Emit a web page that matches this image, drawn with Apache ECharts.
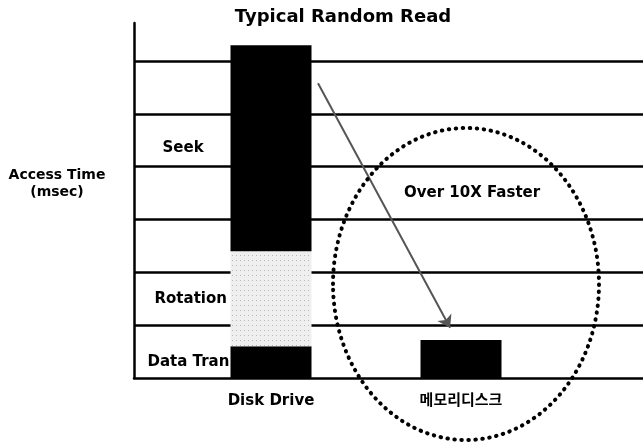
<!DOCTYPE html>
<html>
<head>
<meta charset="utf-8">
<script src="https://cdn.jsdelivr.net/npm/echarts@6/dist/echarts.min.js"></script>
<style>
  html, body { margin: 0; padding: 0; background: #fff; }
  #chart { width: 643px; height: 443px; }
</style>
</head>
<body>
<div id="chart"></div>
<script>
// 数据
const categories = ["Disk Drive", "메모리디스크"];
const transferTime = [0.6, null];
const rotationTime = [1.8, null];
const seekTime = [3.9, null];
const memoryTime = [null, 0.72];
const gridValues = [1, 2, 3, 4, 5, 6];
// 箭头起点和终点（背景网格的数据坐标，x 为 0~1）
const arrowFrom = [0.3615, 5.58];
const arrowTo = [0.621, 0.95];

const FONT = "'DejaVu Sans', 'Noto Sans CJK KR', sans-serif";
const Y_MAX = 6.72;

const chart = echarts.init(document.getElementById("chart"));

const labelStyle = {
  fontFamily: FONT,
  fontSize: 15,
  fontWeight: "bold",
  color: "#000",
};

const option = {
  animation: false,
  title: {
    text: "Typical Random Read",
    left: 338,
    textAlign: "center",
    top: 3,
    textStyle: { fontFamily: FONT, fontSize: 18, fontWeight: "bold", color: "#000" },
  },
  // grid 0：柱子；grid 1：整幅背景（轴线、网格线、箭头）
  grid: [
    { left: 176, width: 380, top: 23, bottom: 65 },
    { left: 134, right: 0, top: 23, bottom: 65 },
  ],
  xAxis: [
    {
      gridIndex: 0,
      type: "category",
      data: categories,
      axisLine: { show: false },
      axisTick: { show: false },
      axisLabel: {
        fontFamily: FONT,
        fontSize: 15,
        fontWeight: "bold",
        color: "#000",
        margin: 16,
      },
    },
    {
      gridIndex: 1,
      type: "value",
      min: 0,
      max: 1,
      axisLine: { show: true, lineStyle: { color: "#000", width: 2.5 } },
      axisTick: { show: false },
      axisLabel: { show: false },
      splitLine: { show: false },
    },
  ],
  yAxis: [
    {
      gridIndex: 0,
      type: "value",
      min: 0,
      max: Y_MAX,
      show: false,
      splitLine: { show: false },
    },
    {
      gridIndex: 1,
      type: "value",
      min: 0,
      max: Y_MAX,
      name: "Access Time\n(msec)",
      nameLocation: "middle",
      nameRotate: 0,
      nameGap: 77,
      nameTextStyle: {
        fontFamily: FONT,
        fontSize: 14,
        fontWeight: "bold",
        color: "#000",
        align: "center",
        verticalAlign: "bottom",
        lineHeight: 17,
      },
      axisLine: { show: true, lineStyle: { color: "#000", width: 2.5 } },
      axisTick: { show: false },
      axisLabel: { show: false },
      splitLine: { show: false },
    },
  ],
  graphic: [
    {
      type: "text",
      left: 404,
      top: 186,
      z: 10,
      style: {
        text: "Over 10X Faster",
        font: "bold 15px " + FONT,
        fill: "#000",
      },
    },
    {
      type: "ellipse",
      z: 10,
      shape: { cx: 466, cy: 284, rx: 133, ry: 156 },
      style: {
        fill: "none",
        stroke: "#000",
        lineWidth: 4,
        lineDash: [0.5, 6.5],
        lineCap: "round",
      },
    },
  ],
  series: [
    {
      // 背景网格线和箭头
      name: "grid",
      type: "line",
      xAxisIndex: 1,
      yAxisIndex: 1,
      data: [],
      silent: true,
      markLine: {
        silent: true,
        symbol: "none",
        z: 1,
        label: { show: false },
        lineStyle: { color: "#000", width: 2.5, type: "solid" },
        data: gridValues.map((v) => ({ yAxis: v })),
      },
    },
    {
      name: "arrow",
      type: "line",
      xAxisIndex: 1,
      yAxisIndex: 1,
      data: [],
      silent: true,
      markLine: {
        silent: true,
        symbol: ["none", "arrow"],
        symbolSize: 12,
        z: 6,
        label: { show: false },
        lineStyle: { color: "#555", width: 2, type: "solid" },
        data: [[{ coord: arrowFrom }, { coord: arrowTo }]],
      },
    },
    {
      name: "Data Transfer",
      type: "bar",
      stack: "a",
      barWidth: 81,
      data: transferTime,
      itemStyle: { color: "#000" },
      label: Object.assign({
        show: true,
        position: [-83, "50%"],
        align: "left",
        verticalAlign: "middle",
        formatter: "{a}",
        width: 83,
        overflow: "truncate",
        ellipsis: "",
      }, labelStyle),
    },
    {
      name: "Rotation",
      type: "bar",
      stack: "a",
      barWidth: 81,
      data: rotationTime,
      itemStyle: {
        color: "#efefef",
        decal: {
          symbol: "rect",
          symbolSize: 1,
          color: "#b8b8b8",
          dashArrayX: [1, 3],
          dashArrayY: [1, 4],
          rotation: 0,
        },
      },
      label: Object.assign({
        show: true,
        position: [-76, "50%"],
        align: "left",
        verticalAlign: "middle",
        formatter: "{a}",
      }, labelStyle),
    },
    {
      name: "Seek",
      type: "bar",
      stack: "a",
      barWidth: 81,
      data: seekTime,
      itemStyle: { color: "#000" },
      label: Object.assign({
        show: true,
        position: [-68, "50%"],
        align: "left",
        verticalAlign: "middle",
        formatter: "{a}",
      }, labelStyle),
    },
    {
      name: "메모리디스크",
      type: "bar",
      stack: "a",
      barWidth: 80,
      data: memoryTime,
      itemStyle: { color: "#000" },
    },
  ],
};

chart.setOption(option);
</script>
</body>
</html>
